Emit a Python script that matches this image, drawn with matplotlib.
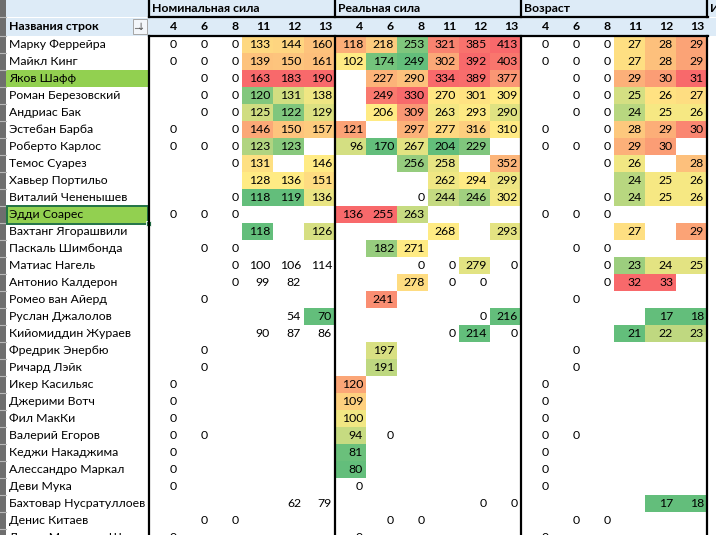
import numpy as np
import matplotlib.pyplot as plt
from matplotlib.patches import Rectangle

plt.rcParams['font.family'] = ['Lato', 'Noto Sans', 'DejaVu Sans']

names = ['Марку Феррейра', 'Майкл Кинг', 'Яков Шафф', 'Роман Березовский',
         'Андриас Бак', 'Эстебан Барба', 'Роберто Карлос', 'Темос Суарез',
         'Хавьер Портильо', 'Виталий Чененышев', 'Эдди Соарес',
         'Вахтанг Ягорашвили', 'Паскаль Шимбонда', 'Матиас Нагель',
         'Антонио Калдерон', 'Ромео ван Айерд', 'Руслан Джалолов',
         'Кийомиддин Жураев', 'Фредрик Энербю', 'Ричард Лэйк', 'Икер Касильяс',
         'Джерими Вотч', 'Фил МакКи', 'Валерий Егоров', 'Кеджи Накаджима',
         'Алессандро Маркал', 'Деви Мука', 'Бахтовар Нусратуллоев',
         'Денис Китаев', 'Данни Мартинес Ш']
groups = ['Номинальная сила', 'Реальная сила', 'Возраст', 'Игры']
cols = ['4', '6', '8', '11', '12', '13']

_ = None
nominal = [
    [0, 0, 0, 133, 144, 160], [0, 0, 0, 139, 150, 161], [_, 0, 0, 163, 183, 190],
    [_, 0, 0, 120, 131, 138], [_, 0, 0, 125, 122, 129], [0, _, 0, 146, 150, 157],
    [0, 0, 0, 123, 123, _], [_, _, 0, 131, _, 146], [_, _, _, 128, 136, 151],
    [_, _, 0, 118, 119, 136], [0, 0, 0, _, _, _], [_, _, _, 118, _, 126],
    [_, 0, 0, _, _, _], [_, _, 0, 100, 106, 114], [_, _, 0, 99, 82, _],
    [_, 0, _, _, _, _], [_, _, _, _, 54, 70], [_, _, _, 90, 87, 86],
    [_, 0, _, _, _, _], [_, 0, _, _, _, _], [0, _, _, _, _, _],
    [0, _, _, _, _, _], [0, _, _, _, _, _], [0, 0, _, _, _, _],
    [0, _, _, _, _, _], [0, _, _, _, _, _], [0, _, _, _, _, _],
    [_, _, _, _, 62, 79], [_, 0, 0, _, _, _], [0, _, _, _, _, _],
]
real = [
    [118, 218, 253, 321, 385, 413], [102, 174, 249, 302, 392, 403],
    [_, 227, 290, 334, 389, 377], [_, 249, 330, 270, 301, 309],
    [_, 206, 309, 263, 293, 290], [121, _, 297, 277, 316, 310],
    [96, 170, 267, 204, 229, _], [_, _, 256, 258, _, 352],
    [_, _, _, 262, 294, 299], [_, _, 0, 244, 246, 302],
    [136, 255, 263, _, _, _], [_, _, _, 268, _, 293],
    [_, 182, 271, _, _, _], [_, _, 0, 0, 279, 0],
    [_, _, 278, 0, 0, _], [_, 241, _, _, _, _],
    [_, _, _, _, 0, 216], [_, _, _, 0, 214, 0],
    [_, 197, _, _, _, _], [_, 191, _, _, _, _],
    [120, _, _, _, _, _], [109, _, _, _, _, _], [100, _, _, _, _, _],
    [94, 0, _, _, _, _], [81, _, _, _, _, _], [80, _, _, _, _, _],
    [0, _, _, _, _, _], [_, _, _, _, 0, 0], [_, 0, 0, _, _, _],
    [0, _, _, _, _, _],
]
age = [
    [0, 0, 0, 27, 28, 29], [0, 0, 0, 27, 28, 29], [_, 0, 0, 29, 30, 31],
    [_, 0, 0, 25, 26, 27], [_, 0, 0, 24, 25, 26], [0, _, 0, 28, 29, 30],
    [0, 0, 0, 29, 30, _], [_, _, 0, 26, _, 28], [_, _, _, 24, 25, 26],
    [_, _, 0, 24, 25, 26], [0, 0, 0, _, _, _], [_, _, _, 27, _, 29],
    [_, 0, 0, _, _, _], [_, _, 0, 23, 24, 25], [_, _, 0, 32, 33, _],
    [_, 0, _, _, _, _], [_, _, _, _, 17, 18], [_, _, _, 21, 22, 23],
    [_, 0, _, _, _, _], [_, 0, _, _, _, _], [0, _, _, _, _, _],
    [0, _, _, _, _, _], [0, _, _, _, _, _], [0, 0, _, _, _, _],
    [0, _, _, _, _, _], [0, _, _, _, _, _], [0, _, _, _, _, _],
    [_, _, _, _, 17, 18], [_, 0, 0, _, _, _], [0, _, _, _, _, _],
]
tables = [nominal, real, age]

# nominal cells that sit outside the colour-scale range
nominal_plain = {'Матиас Нагель': [3, 4, 5], 'Антонио Калдерон': [3, 4],
                 'Руслан Джалолов': [4], 'Кийомиддин Жураев': [3, 4, 5],
                 'Бахтовар Нусратуллоев': [4, 5]}
highlighted = ['Яков Шафф', 'Эдди Соарес']
selected = 'Эдди Соарес'

GREEN, YELLOW, RED = (np.array([0x63, 0xBE, 0x7B]) / 255,
                      np.array([0xFF, 0xEB, 0x84]) / 255,
                      np.array([0xF8, 0x69, 0x6B]) / 255)


def in_scale(g, r, c):
    v = tables[g][r][c]
    if v is None or v == 0:
        return False
    if g == 0 and c in nominal_plain.get(names[r], []):
        return False
    return True


def scale_color(v, lo, mid, hi):
    if v <= mid:
        t = 0 if mid == lo else (v - lo) / (mid - lo)
        return GREEN + t * (YELLOW - GREEN)
    t = 0 if hi == mid else (v - mid) / (hi - mid)
    return YELLOW + t * (RED - YELLOW)


fig = plt.figure(figsize=(7.16, 5.35), dpi=100)
ax = fig.add_axes([0, 0, 1, 1])
ax.set_xlim(0, 716)
ax.set_ylim(535, 0)
ax.axis('off')

fs = 8.8
row0, rh, cw, name_w = 36, 17, 31, 149
HDR = '#DDEBF7'

# header bands
ax.add_patch(Rectangle((6, 0), 710, 16.5, fc=HDR, ec='none'))
ax.add_patch(Rectangle((6, 17.5), 710, 18, fc=HDR, ec='none'))
ax.text(9, 27, 'Названия строк', fontsize=fs, weight='bold', va='center')
ax.add_patch(Rectangle((132.5, 18.5), 14.5, 15, fc='#F3F6FA', ec='#A6A6A6', lw=0.7))
ax.text(141, 26.5, '↓', fontsize=7, color='#505050', ha='center', va='center',
        family='DejaVu Sans')
ax.plot([135, 138.5], [28, 28], color='#808080', lw=0.8)

for g, gname in enumerate(groups):
    gx = name_w + g * 6 * cw
    ax.text(gx + 3, 8.3, gname, fontsize=fs, weight='bold', va='center')
    if g < 3:
        for c, lab in enumerate(cols):
            ax.text(gx + (c + 1) * cw - 3, 26.5, lab, fontsize=fs, weight='bold',
                    ha='right', va='center')

# name column
for r, name in enumerate(names):
    y0 = row0 + r * rh
    if name in highlighted:
        ax.add_patch(Rectangle((6, y0), name_w - 7, rh, fc='#92D050', ec='none'))
    ax.text(9, y0 + rh / 2 + 0.3, name, fontsize=fs, va='center')
    if name == selected:
        ax.add_patch(Rectangle((6.5, y0 - 0.5), name_w - 7.5, rh + 1, fill=False,
                               ec='#217346', lw=1.4, zorder=5))
        ax.add_patch(Rectangle((146, y0 + rh - 2.5), 5, 5, fc='#217346',
                               ec='white', lw=0.6, zorder=6))

# value cells with per-column 3-colour scales
for g, tab in enumerate(tables):
    gx = name_w + g * 6 * cw
    for c in range(6):
        scaled = [tab[r][c] for r in range(len(names)) if in_scale(g, r, c)]
        if scaled:
            lo, mid, hi = min(scaled), np.percentile(scaled, 50), max(scaled)
        for r in range(len(names)):
            v = tab[r][c]
            if v is None:
                continue
            x0, y0 = gx + c * cw, row0 + r * rh
            if in_scale(g, r, c):
                ax.add_patch(Rectangle((x0, y0), cw, rh, ec='none',
                                       fc=scale_color(v, lo, mid, hi)))
            ax.text(x0 + cw - 3, y0 + rh / 2 + 0.3, str(v), fontsize=fs,
                    ha='right', va='center')

# left row-header strip
ax.add_patch(Rectangle((0, 0), 6, 535, fc='#6E6E6E', ec='none'))
for y in [17, 36] + [row0 + r * rh for r in range(1, len(names))]:
    ax.plot([0, 6], [y, y], color='#B8B8B8', lw=0.8)

# thick pivot borders
for g in range(4):
    x = name_w + g * 6 * cw
    ax.plot([x, x], [0, 17], color='black', lw=1.6, zorder=7)
    ax.plot([x, x], [35.5, 535], color='black', lw=1.6, zorder=7)
ax.plot([name_w, 708], [16.5, 16.5], color='black', lw=1.6, zorder=7)
ax.plot([name_w, 708], [35.5, 35.5], color='black', lw=1.6, zorder=7)

fig.savefig('out.png', dpi=100)
